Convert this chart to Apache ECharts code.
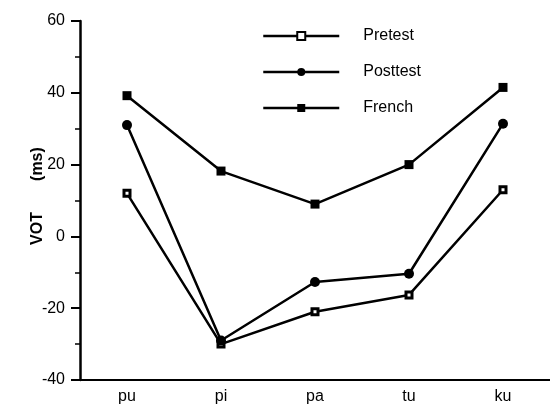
<!DOCTYPE html>
<html>
<head>
<meta charset="utf-8">
<script src="https://cdn.jsdelivr.net/npm/echarts@6/dist/echarts.min.js"></script>
<style>html,body{margin:0;padding:0;background:#fff}#c{width:550px;height:415px}</style>
</head>
<body>
<div id="c"></div>
<script>
const categories = ['pu', 'pi', 'pa', 'tu', 'ku'];
const pretest = [12, -30, -21, -16.3, 13];
const posttest = [31, -29, -12.7, -10.4, 31.4];
const french = [39.2, 18.2, 9, 20, 41.5];
const yTicks = [-40, -20, 0, 20, 40, 60];

const FONT = '"Liberation Sans", Arial, sans-serif';
const chart = echarts.init(document.getElementById('c'), null, {renderer: 'canvas'});
const lineBase = {
  type: 'line',
  xAxisIndex: 0,
  lineStyle: {color: '#000', width: 2.5},
  animation: false
};
chart.setOption({
  animation: false,
  backgroundColor: '#fff',
  textStyle: {fontFamily: FONT},
  grid: {left: 80, right: 0, top: 21, bottom: 35, containLabel: false},
  legend: {
    orient: 'vertical',
    left: 262,
    top: 28,
    padding: 0,
    itemWidth: 76,
    itemHeight: 10,
    itemGap: 20,
    lineStyle: {width: 2.5, color: '#000'},
    textStyle: {fontFamily: FONT, fontSize: 16, color: '#000', padding: [0, 0, 0, 19]},
    data: ['Pretest', 'Posttest', 'French']
  },
  xAxis: [{
    type: 'category',
    data: categories,
    boundaryGap: true,
    axisLine: {onZero: false, lineStyle: {color: '#000', width: 2}},
    axisTick: {alignWithLabel: true, length: 8, lineStyle: {color: '#000', width: 2}},
    axisLabel: {color: '#000', fontSize: 16, fontFamily: FONT, margin: 9},
    splitLine: {show: false}
  }, {
    type: 'category',
    data: categories,
    position: 'bottom',
    boundaryGap: true,
    axisLine: {show: false, onZero: false},
    axisTick: {length: 5, lineStyle: {color: '#000', width: 1.5}},
    axisLabel: {show: false},
    splitLine: {show: false}
  }],
  yAxis: {
    type: 'value',
    min: yTicks[0],
    max: yTicks[yTicks.length - 1],
    interval: 20,
    name: '  VOT       (ms)',
    nameLocation: 'middle',
    nameGap: 34,
    nameMoveOverlap: false,
    nameTextStyle: {color: '#000', fontSize: 16, fontWeight: 'bold', fontFamily: FONT},
    axisLine: {show: true, lineStyle: {color: '#000', width: 2.5}},
    axisTick: {show: true, length: 9, lineStyle: {color: '#000', width: 2}},
    minorTick: {show: true, splitNumber: 2, length: 5, lineStyle: {color: '#000', width: 1.5}},
    axisLabel: {color: '#000', fontSize: 16, fontFamily: FONT, margin: 15},
    splitLine: {show: false}
  },
  series: [
    Object.assign({}, lineBase, {
      name: 'Pretest', data: pretest, symbol: 'rect', symbolSize: 6, z: 3,
      itemStyle: {color: '#fff', borderColor: '#000', borderWidth: 3}
    }),
    Object.assign({}, lineBase, {
      name: 'Posttest', data: posttest, symbol: 'circle', symbolSize: 10, z: 4,
      itemStyle: {color: '#000', borderColor: '#000', borderWidth: 0}
    }),
    Object.assign({}, lineBase, {
      name: 'French', data: french, symbol: 'rect', symbolSize: 9, z: 5,
      itemStyle: {color: '#000', borderColor: '#000', borderWidth: 0}
    })
  ]
});
</script>
</body>
</html>
